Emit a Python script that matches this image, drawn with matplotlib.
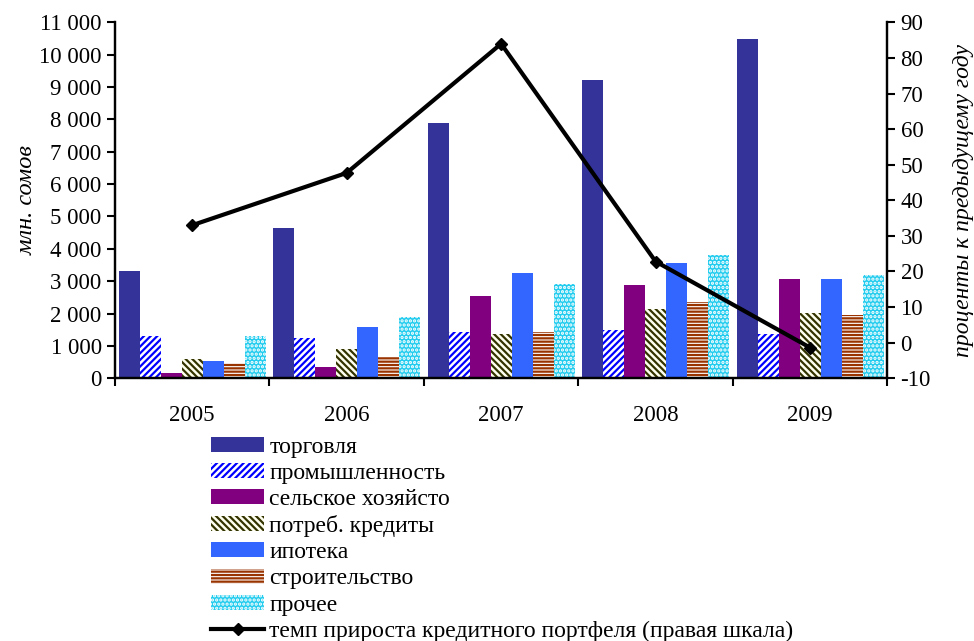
import matplotlib
matplotlib.use("Agg")
from matplotlib import pyplot as plt
import numpy as np

plt.rcParams['font.family'] = ['Liberation Serif', 'DejaVu Serif']
plt.rcParams['axes.unicode_minus'] = False
plt.rcParams['hatch.linewidth'] = 1.6

years = ['2005', '2006', '2007', '2008', '2009']
sectors = ['торговля', 'промышленность', 'сельское хозяйсто', 'потреб. кредиты',
           'ипотека', 'строительство', 'прочее']

# млн. сомов
trade = [3310, 4640, 7880, 9230, 10480]
industry = [1300, 1240, 1420, 1490, 1360]
agri = [160, 340, 2540, 2880, 3060]
consumer = [590, 900, 1360, 2140, 2010]
mortgage = [530, 1580, 3250, 3560, 3060]
construction = [460, 650, 1420, 2350, 1950]
other = [1300, 1890, 2910, 3800, 3190]

# проценты к предыдущему году
growth = [33.0, 47.7, 84.0, 22.8, -1.4]

series = [trade, industry, agri, consumer, mortgage, construction, other]
# (facecolor, hatch color, hatch)
styles = [
    ('#333399', '#333399', None),
    ('white', '#0000ff', '/////'),
    ('#800080', '#800080', None),
    ('#fffff0', '#333300', '\\\\\\\\\\'),
    ('#3366ff', '#3366ff', None),
    ('white', '#993300', '-----'),
    ('#22ccee', 'white', '....'),
]

fig = plt.figure(figsize=(9.74, 6.41), dpi=100)
ax = fig.add_axes([0.118, 0.410, 0.793, 0.555])
ax2 = ax.twinx()

x = np.arange(len(years))
w = 0.136
bars = []
for i, (vals, (fc, hc, h)) in enumerate(zip(series, styles)):
    b = ax.bar(x + (i - 3) * w, vals, w, facecolor=fc, edgecolor=hc,
               hatch=h, linewidth=0, label=sectors[i], zorder=2)
    bars.append(b)

ln, = ax2.plot(x, growth, color='black', lw=3, marker='D', ms=6,
               label='темп прироста кредитного портфеля (правая шкала)')

ax.set_xlim(-0.5, 4.5)
ax.set_ylim(0, 11000)
ax2.set_ylim(-10, 90)
ax.set_yticks(np.arange(0, 11001, 1000))
ax.set_yticklabels([f'{v:,}'.replace(',', ' ') for v in range(0, 11001, 1000)])
ax2.set_yticks(np.arange(-10, 91, 10))

ax.set_xticks(np.arange(-0.5, 5, 1))
ax.set_xticklabels([])
ax.set_xticks(x, minor=True)
ax.set_xticklabels(years, minor=True)
ax.tick_params(axis='x', which='minor', length=0, pad=19)

fs = 16.5
for a in (ax, ax2):
    a.tick_params(axis='both', which='major', labelsize=fs, width=1.5, length=6)
    a.tick_params(axis='x', which='minor', labelsize=fs)
    a.spines['top'].set_visible(False)
    for s in ('left', 'right', 'bottom'):
        a.spines[s].set_linewidth(1.6)

ax.set_ylabel('млн. сомов', fontsize=17.5, style='italic', labelpad=1)
ax2.set_ylabel('проценты к предыдущему году', fontsize=17, style='italic',
               labelpad=16)

handles = bars + [ln]
labels = sectors + [ln.get_label()]
fig.legend(handles, labels, loc='upper left', bbox_to_anchor=(0.217, 0.319),
           frameon=False, fontsize=17, handlelength=2.25, handleheight=0.6,
           handletextpad=0.2, labelspacing=0.22, borderpad=0, borderaxespad=0)

fig.savefig('out.png', dpi=100)
